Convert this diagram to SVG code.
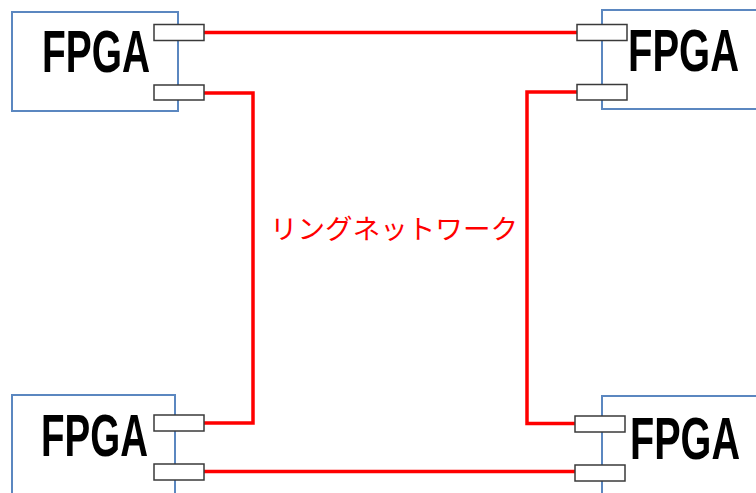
<svg xmlns="http://www.w3.org/2000/svg" width="756" height="493" viewBox="0 0 756 493">
<style>
.box{fill:#fff;stroke:#5b87c0;stroke-width:2}
.port{fill:#fff;stroke:#3a3a3a;stroke-width:1.5}
.lbl{font-family:"Liberation Sans","Noto Sans",sans-serif;font-weight:bold;font-size:60px;fill:#000}
.wire{fill:none;stroke:#ff0000;stroke-width:3.5}
.ring{font-family:"Noto Sans CJK JP","Noto Sans",sans-serif;font-size:27px;fill:#ff0000}
</style>
<rect width="756" height="493" fill="#fff"/>
<g id="connectors">
<path class="wire" d="M204 32.5H577"/>
<path class="wire" d="M204 93H253V423H204"/>
<path class="wire" d="M577 92H527V423.5H575"/>
<path class="wire" d="M204 471.5H575"/>
</g>
<g id="fpga-tl">
<rect class="box" x="12" y="12" width="166" height="99"/>
<text class="lbl" transform="translate(42,72) scale(0.648,1)">FPGA</text>
<rect class="port" x="154" y="24.5" width="50" height="16"/>
<rect class="port" x="154" y="85" width="50" height="15"/>
</g>
<g id="fpga-tr">
<rect class="box" x="602" y="10" width="156" height="99"/>
<text class="lbl" transform="translate(628,71) scale(0.666,1)">FPGA</text>
<rect class="port" x="577" y="24.5" width="50" height="16"/>
<rect class="port" x="577" y="84.5" width="50" height="15.5"/>
</g>
<g id="fpga-bl">
<rect class="box" x="12" y="395" width="163" height="100"/>
<text class="lbl" transform="translate(41,456) scale(0.642,1)">FPGA</text>
<rect class="port" x="154" y="415" width="50" height="16"/>
<rect class="port" x="154" y="464" width="50" height="16"/>
</g>
<g id="fpga-br">
<rect class="box" x="602" y="396" width="156" height="99"/>
<text class="lbl" transform="translate(630,459) scale(0.66,1)">FPGA</text>
<rect class="port" x="575" y="416" width="50" height="16"/>
<rect class="port" x="575" y="465" width="50" height="16"/>
</g>
<g id="label">
<text class="ring" x="394" y="239" text-anchor="middle" textLength="248" lengthAdjust="spacingAndGlyphs">リングネットワーク</text>
</g>
</svg>
